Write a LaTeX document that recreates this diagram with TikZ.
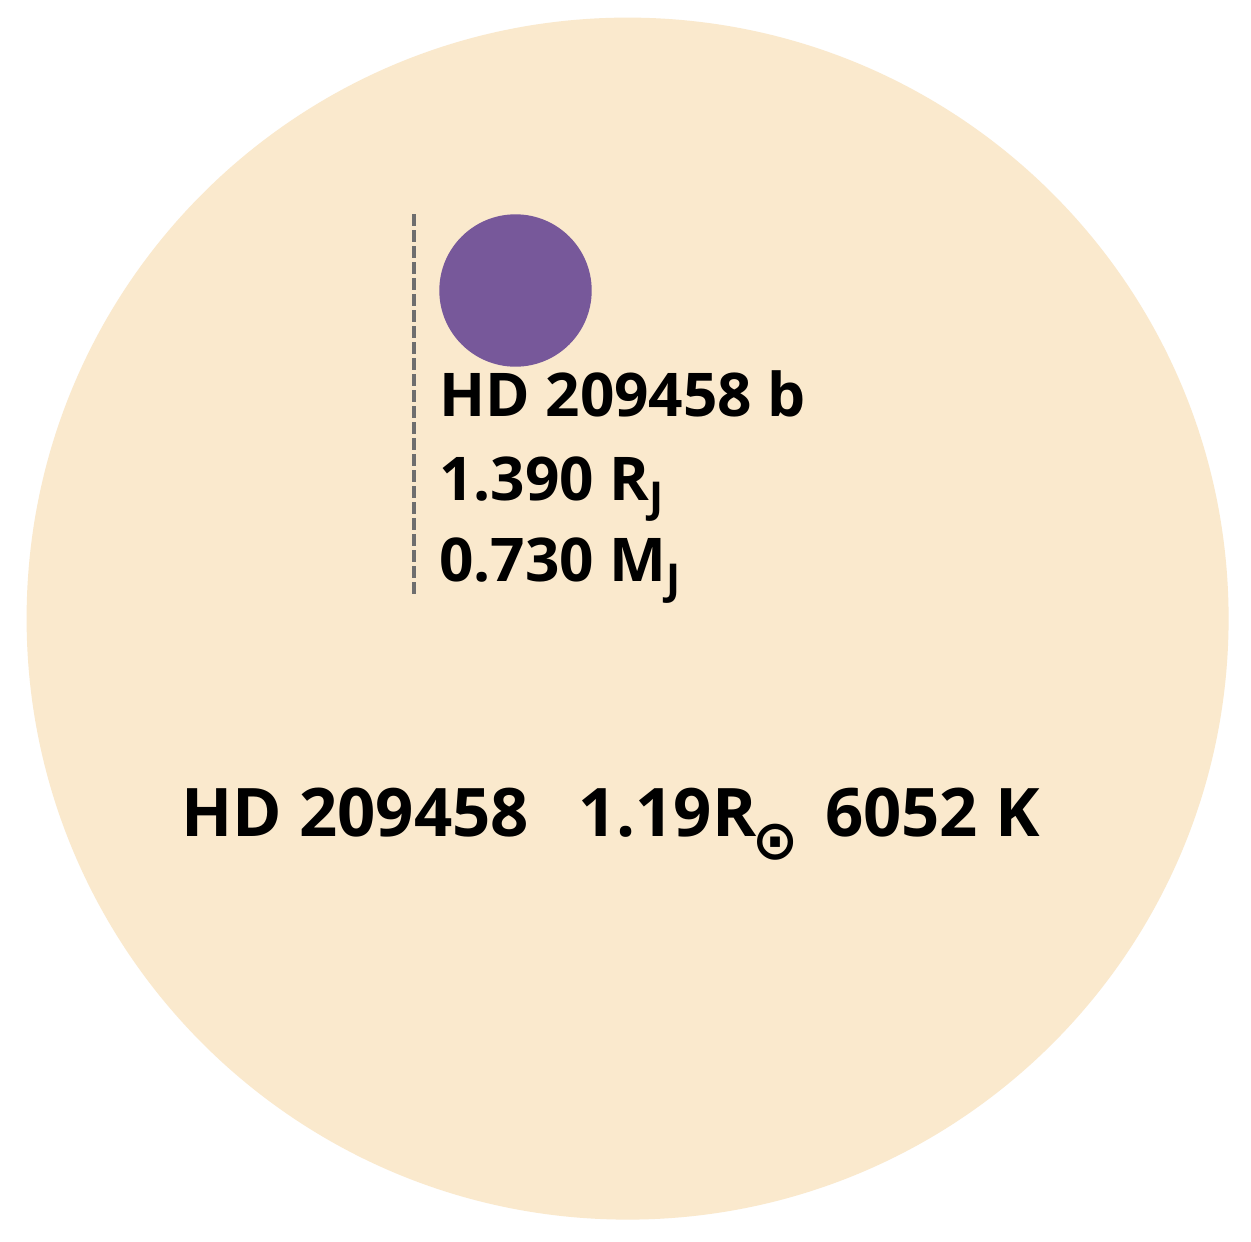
\documentclass[tikz,border=0pt]{standalone}
\usepackage{fontspec}
\setmainfont{Open Sans}
\newfontfamily\symfont{DejaVu Sans}
\definecolor{starfill}{HTML}{FAE9CD}
\definecolor{planetfill}{HTML}{77589A}
\definecolor{dashgray}{HTML}{6E6E6E}
\newcommand\subJ{\raisebox{-12.4pt}{\fontsize{42.5}{43}\selectfont J}}
\begin{document}
\begin{tikzpicture}[x=1pt,y=-1pt,
  lbl/.style={anchor=base west, inner sep=0pt, font=\bfseries\fontsize{60.3}{70}\selectfont},
  starlbl/.style={anchor=base west, inner sep=0pt, font=\bfseries\fontsize{67}{75}\selectfont}]
\useasboundingbox (0,0) rectangle (1251,1242);
\fill[white] (0,0) rectangle (1251,1242);
\node[circle, fill=starfill, minimum size=1202pt, inner sep=0pt] (star) at (627.6,618.6) {};
\node[circle, fill=planetfill, minimum size=152.4pt, inner sep=0pt] (planet) at (515.5,290.5) {};
\coordinate (dtop) at (414.3,214);
\coordinate (dbot) at (414.3,594);
\draw[dashgray, line width=4pt, dash pattern=on 12pt off 4pt] (dtop) -- (dbot);
\node[lbl] (pname) at (439,416.7) {HD 209458 b};
\node[lbl] (prad) at (439,500) {1.390 R\subJ};
\node[lbl] (pmass) at (439,581.7) {0.730 M\subJ};
\node[starlbl] (sname) at (181,836) {HD 209458};
\node[starlbl] (srad) at (578,836) {1.19R};
\node[inner sep=0pt, font=\symfont\bfseries\fontsize{55}{55}\selectfont] (sun) at (775.8,842.5) {⊙};
\node[starlbl] (stemp) at (825,836) {6052 K};
\end{tikzpicture}
\end{document}
